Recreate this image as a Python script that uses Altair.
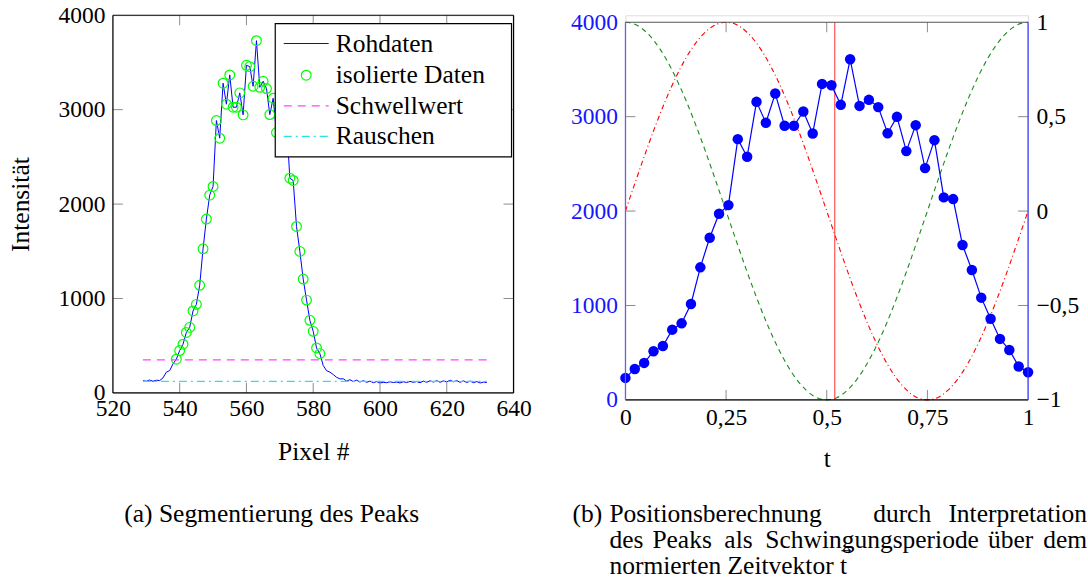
import altair as alt
import pandas as pd

FONT = "Liberation Serif"
FS = 23.5      # numbers
FT = 25.5      # words

# ---------------- left panel data ----------------
pixel = list(range(529, 633))
intensity = [
    130, 123, 137, 123, 134, 131, 159, 219, 236, 307,          # 529-538
    357, 449, 516, 640, 694, 868, 938, 1140, 1526, 1841,       # 539-548
    2095, 2187, 2885, 2698, 3280, 3058, 3368, 3026, 3026, 3178,  # 549-558
    2945, 3470, 3456, 3248, 3731, 3237, 3301, 3224, 2948, 3121,  # 559-568
    2758, 3033, 2578, 2874, 2274, 2250, 1763, 1499, 1206, 983,   # 569-578
    769, 652, 476, 416, 290, 235, 220, 195, 165, 148,          # 579-588
    150, 125, 140, 120, 135, 115, 130, 112, 125, 108,          # 589-598
    120, 105, 112, 108, 118, 110, 115, 105, 118, 110,          # 599-608
    122, 112, 120, 108, 125, 113, 128, 115, 130, 112,          # 609-618
    128, 115, 135, 118, 130, 112, 128, 110, 125, 108,          # 619-628
    120, 105, 115, 110,                                        # 629-632
]
threshold = 350
noise = 123
legend_labels = ["Rohdaten", "isolierte Daten", "Schwellwert", "Rauschen"]
left_xticks = [520, 540, 560, 580, 600, 620, 640]
left_yticks = [0, 1000, 2000, 3000, 4000]

# ---------------- right panel data ----------------
peak_values = [233, 328, 392, 515, 571, 744, 811, 1016, 1404, 1718, 1972, 2063,
               2762, 2575, 3157, 2935, 3245, 2903, 2903, 3055, 2822, 3347, 3333,
               3125, 3608, 3114, 3178, 3101, 2825, 2998, 2635, 2910, 2455, 2751,
               2145, 2127, 1640, 1376, 1083, 860, 646, 529, 353, 293]
t_values = [i / (len(peak_values) - 1) for i in range(len(peak_values))]
t_position = 0.52
curve_t = [k / 40 for k in range(41)]
cos_vals = [1, 0.988, 0.951, 0.891, 0.809, 0.707, 0.588, 0.454, 0.309, 0.156, 0,
            -0.156, -0.309, -0.454, -0.588, -0.707, -0.809, -0.891, -0.951, -0.988, -1,
            -0.988, -0.951, -0.891, -0.809, -0.707, -0.588, -0.454, -0.309, -0.156, 0,
            0.156, 0.309, 0.454, 0.588, 0.707, 0.809, 0.891, 0.951, 0.988, 1]
sin_vals = [0, 0.156, 0.309, 0.454, 0.588, 0.707, 0.809, 0.891, 0.951, 0.988, 1,
            0.988, 0.951, 0.891, 0.809, 0.707, 0.588, 0.454, 0.309, 0.156, 0,
            -0.156, -0.309, -0.454, -0.588, -0.707, -0.809, -0.891, -0.951, -0.988, -1,
            -0.988, -0.951, -0.891, -0.809, -0.707, -0.588, -0.454, -0.309, -0.156, 0]
right_xticks = [0, 0.25, 0.5, 0.75, 1]
right_yticks_left = [0, 1000, 2000, 3000, 4000]
right_yticks_right = [-1, -0.5, 0, 0.5, 1]

W1, H1 = 401, 378
W2, H2 = 403, 378
OFF = 7                     # right panel sits a bit lower
HT2 = H2 + OFF
TICK = 10
TICKC = "#8c8c8c"
LABEL_EXPR = "replace(replace(toString(datum.value), '.', ','), '-', '\u2212')"

dummy = pd.DataFrame({"a": [0]})


def frame(w, y0, y1, colors):
    top, right, bottom, left = colors
    b = alt.Chart(dummy)
    return [
        b.mark_rule(color=top, strokeWidth=1.2).encode(x=alt.value(0), x2=alt.value(w), y=alt.value(y0)),
        b.mark_rule(color=bottom, strokeWidth=1.2).encode(x=alt.value(0), x2=alt.value(w), y=alt.value(y1)),
        b.mark_rule(color=left, strokeWidth=1.2).encode(y=alt.value(y0), y2=alt.value(y1), x=alt.value(0)),
        b.mark_rule(color=right, strokeWidth=1.2).encode(y=alt.value(y0), y2=alt.value(y1), x=alt.value(w)),
    ]


def text(t, x, y, align="left", size=FT, color="black", font=FONT):
    return alt.Chart(dummy).mark_text(text=t, align=align, baseline="middle", font=font,
                                      fontSize=size, color=color).encode(
        x=alt.value(x), y=alt.value(y))


# ================= LEFT PANEL =================
xs1 = alt.Scale(domain=[520, 640], nice=False, zero=False)
ys1 = alt.Scale(domain=[0, 4000], nice=False)

df_raw = pd.DataFrame({"pixel": pixel, "intensity": intensity})

xaxis1 = alt.Axis(values=left_xticks, title="Pixel #", ticks=False, domain=False, grid=False,
                  labelExpr=LABEL_EXPR,
                  labelFont=FONT, labelFontSize=FS, labelColor="black", labelPadding=4,
                  labelFlush=False, labelOverlap=False,
                  titleFont=FONT, titleFontSize=FT, titleFontWeight="normal", titleColor="black",
                  titlePadding=19)
yaxis1 = alt.Axis(values=left_yticks, title="Intensität", ticks=False, domain=False, grid=False,
                  labelExpr=LABEL_EXPR,
                  labelFont=FONT, labelFontSize=FS, labelColor="black", labelPadding=8,
                  labelOverlap=False,
                  titleFont=FONT, titleFontSize=FT, titleFontWeight="normal", titleColor="black",
                  titlePadding=24)

raw_line = alt.Chart(df_raw).mark_line(color="#0000ff", strokeWidth=1).encode(
    x=alt.X("pixel:Q", scale=xs1, axis=xaxis1),
    y=alt.Y("intensity:Q", scale=ys1, axis=yaxis1),
)
iso_pts = alt.Chart(df_raw).transform_filter(alt.datum.intensity > threshold).mark_point(
    shape="circle", filled=False, color="#00ff00", size=95, strokeWidth=1.2, opacity=1
).encode(
    x=alt.X("pixel:Q", scale=xs1, axis=xaxis1),
    y=alt.Y("intensity:Q", scale=ys1, axis=yaxis1),
)
df_lvl = pd.DataFrame({"level": [threshold], "x1": [pixel[0]], "x2": [pixel[-1]]})
thr_rule = alt.Chart(df_lvl).mark_rule(color="#ff44ff", strokeWidth=1.3, strokeDash=[8, 6]).encode(
    x=alt.X("x1:Q", scale=xs1, axis=xaxis1), x2="x2:Q",
    y=alt.Y("level:Q", scale=ys1, axis=yaxis1))
df_noise = pd.DataFrame({"level": [noise], "x1": [pixel[0]], "x2": [pixel[-1]]})
noise_rule = alt.Chart(df_noise).mark_rule(color="#22e6e6", strokeWidth=1.3,
                                           strokeDash=[8, 4, 2, 4]).encode(
    x=alt.X("x1:Q", scale=xs1, axis=xaxis1), x2="x2:Q",
    y=alt.Y("level:Q", scale=ys1, axis=yaxis1))

xt1 = pd.DataFrame({"v": left_xticks[1:-1]})
yt1 = pd.DataFrame({"v": left_yticks[1:-1]})
ticks1 = [
    alt.Chart(xt1).mark_rule(color=TICKC).encode(x=alt.X("v:Q", scale=xs1, axis=xaxis1),
                                                 y=alt.value(H1), y2=alt.value(H1 - TICK)),
    alt.Chart(xt1).mark_rule(color=TICKC).encode(x=alt.X("v:Q", scale=xs1, axis=xaxis1),
                                                 y=alt.value(0), y2=alt.value(TICK)),
    alt.Chart(yt1).mark_rule(color=TICKC).encode(y=alt.Y("v:Q", scale=ys1, axis=yaxis1),
                                                 x=alt.value(0), x2=alt.value(TICK)),
    alt.Chart(yt1).mark_rule(color=TICKC).encode(y=alt.Y("v:Q", scale=ys1, axis=yaxis1),
                                                 x=alt.value(W1), x2=alt.value(W1 - TICK)),
]

# manual legend
LX0, LX1, LY0, LY1 = 162.5, 399, 8.3, 141.7
leg_y = [28.3, 60, 90.7, 121.3]
leg = [
    alt.Chart(dummy).mark_rect(fill="white", stroke="black", strokeWidth=1.2).encode(
        x=alt.value(LX0), x2=alt.value(LX1), y=alt.value(LY0), y2=alt.value(LY1)),
    alt.Chart(dummy).mark_rule(color="#0000ff", strokeWidth=1).encode(
        x=alt.value(171), x2=alt.value(216), y=alt.value(leg_y[0])),
    alt.Chart(dummy).mark_point(shape="circle", filled=False, color="#00ff00", size=95,
                                strokeWidth=1.2, opacity=1).encode(
        x=alt.value(193.5), y=alt.value(leg_y[1])),
    alt.Chart(dummy).mark_rule(color="#ff44ff", strokeWidth=1.3, strokeDash=[8, 6]).encode(
        x=alt.value(171), x2=alt.value(216), y=alt.value(leg_y[2])),
    alt.Chart(dummy).mark_rule(color="#22e6e6", strokeWidth=1.3, strokeDash=[8, 4, 2, 4]).encode(
        x=alt.value(171), x2=alt.value(216), y=alt.value(leg_y[3])),
]
for lab, yy in zip(legend_labels, leg_y):
    leg.append(text(lab, 223, yy))

caption_a = text("(a) Segmentierung des Peaks", 159, 499, align="center")

left = alt.layer(raw_line, iso_pts, thr_rule, noise_rule, *ticks1,
                 *frame(W1, 0, H1, ["black", "black", "black", "black"]),
                 *leg, caption_a).properties(width=W1, height=H1)

# ================= RIGHT PANEL =================
xs2 = alt.Scale(domain=[0, 1], nice=False, zero=False)
ys2 = alt.Scale(domain=[0, 4000], nice=False, range=[HT2, OFF])
ys3 = alt.Scale(domain=[-1, 1], nice=False, zero=False, range=[HT2, OFF])

df_peak = pd.DataFrame({"t": t_values, "v": peak_values})
df_curve = pd.DataFrame({"t": curve_t, "c": cos_vals, "s": sin_vals})

xaxis2 = alt.Axis(values=right_xticks, title="t", ticks=False, domain=False, grid=False,
                  labelExpr=LABEL_EXPR,
                  labelFont=FONT, labelFontSize=FS, labelColor="black", labelPadding=6,
                  labelFlush=False, labelOverlap=False,
                  titleFont=FONT, titleFontSize=FT, titleFontWeight="normal", titleColor="black",
                  titlePadding=17)
yaxis2 = alt.Axis(values=right_yticks_left, title=None, ticks=False, domain=False, grid=False,
                  orient="left", labelExpr=LABEL_EXPR, labelFont=FONT, labelFontSize=FS,
                  labelColor="#1515ff", labelPadding=8, labelOverlap=False)
yaxis3 = alt.Axis(values=right_yticks_right, title=None, ticks=False, domain=False, grid=False,
                  orient="right", labelExpr=LABEL_EXPR, labelFont=FONT, labelFontSize=FS,
                  labelColor="black", labelPadding=8, labelOverlap=False)

cos_line = alt.Chart(df_curve).mark_line(color="#1a8c1a", strokeWidth=1.1, strokeDash=[5, 4],
                                         interpolate="monotone").encode(
    x=alt.X("t:Q", scale=xs2, axis=xaxis2),
    y=alt.Y("c:Q", scale=ys3, axis=yaxis3))
sin_line = alt.Chart(df_curve).mark_line(color="#ff0000", strokeWidth=1.1, strokeDash=[5, 3, 1, 3],
                                         interpolate="monotone").encode(
    x=alt.X("t:Q", scale=xs2, axis=xaxis2),
    y=alt.Y("s:Q", scale=ys3, axis=yaxis3))
yt3 = pd.DataFrame({"v": right_yticks_right[1:-1]})
tick_right = alt.Chart(yt3).mark_rule(color=TICKC).encode(
    y=alt.Y("v:Q", scale=ys3, axis=yaxis3), x=alt.value(W2), x2=alt.value(W2 - TICK))
right_group = alt.layer(cos_line, sin_line, tick_right)

peak_line = alt.Chart(df_peak).mark_line(color="#0000ff", strokeWidth=1.2).encode(
    x=alt.X("t:Q", scale=xs2, axis=xaxis2),
    y=alt.Y("v:Q", scale=ys2, axis=yaxis2))
peak_pts = alt.Chart(df_peak).mark_circle(color="#0000ff", size=110, opacity=1).encode(
    x=alt.X("t:Q", scale=xs2, axis=xaxis2),
    y=alt.Y("v:Q", scale=ys2, axis=yaxis2))
yt2 = pd.DataFrame({"v": right_yticks_left[1:-1]})
tick_left = alt.Chart(yt2).mark_rule(color=TICKC).encode(
    y=alt.Y("v:Q", scale=ys2, axis=yaxis2), x=alt.value(0), x2=alt.value(TICK))
left_group = alt.layer(peak_line, peak_pts, tick_left)

pos_rule = alt.Chart(pd.DataFrame({"t": [t_position]})).mark_rule(
    color="#ff3030", strokeWidth=1).encode(
    x=alt.X("t:Q", scale=xs2, axis=xaxis2), y=alt.value(OFF), y2=alt.value(HT2))

xt2 = pd.DataFrame({"v": right_xticks[1:-1]})
xticks2 = [
    alt.Chart(xt2).mark_rule(color=TICKC).encode(x=alt.X("v:Q", scale=xs2, axis=xaxis2),
                                                 y=alt.value(HT2), y2=alt.value(HT2 - TICK)),
    alt.Chart(xt2).mark_rule(color=TICKC).encode(x=alt.X("v:Q", scale=xs2, axis=xaxis2),
                                                 y=alt.value(OFF), y2=alt.value(OFF + TICK)),
]

CY = 492 + OFF
caps_b = [
    text("(b)", -53, CY),
    text("Positionsberechnung", -16, CY),
    text("durch", 277, CY, align="center"),
    text("Interpretation", 462, CY, align="right"),
    text("des", -16, CY + 26),
    text("Peaks", 27, CY + 26),
    text("als", 99, CY + 26),
    text("Schwingungsperiode", 140, CY + 26),
    text("über", 363, CY + 26),
    text("dem", 462, CY + 26, align="right"),
    text("normierten Zeitvektor t", -16, CY + 52),
    text("\u2192", 221, CY + 37, align="center", size=13, font="DejaVu Sans"),
]

right = alt.layer(
    right_group, pos_rule, left_group, *xticks2,
    *frame(W2, OFF, HT2, ["#555555", "#3030ff", "black", "#6060ff"]),
    *caps_b,
).resolve_scale(y="independent").properties(width=W2, height=HT2)

chart = alt.hconcat(left, right, spacing=37).properties(
    padding={"left": 8, "top": 2, "right": 0, "bottom": 0}
).configure_view(stroke=None).configure(background="white")

chart.save("out.html", embed_options={"renderer": "svg", "actions": False})
